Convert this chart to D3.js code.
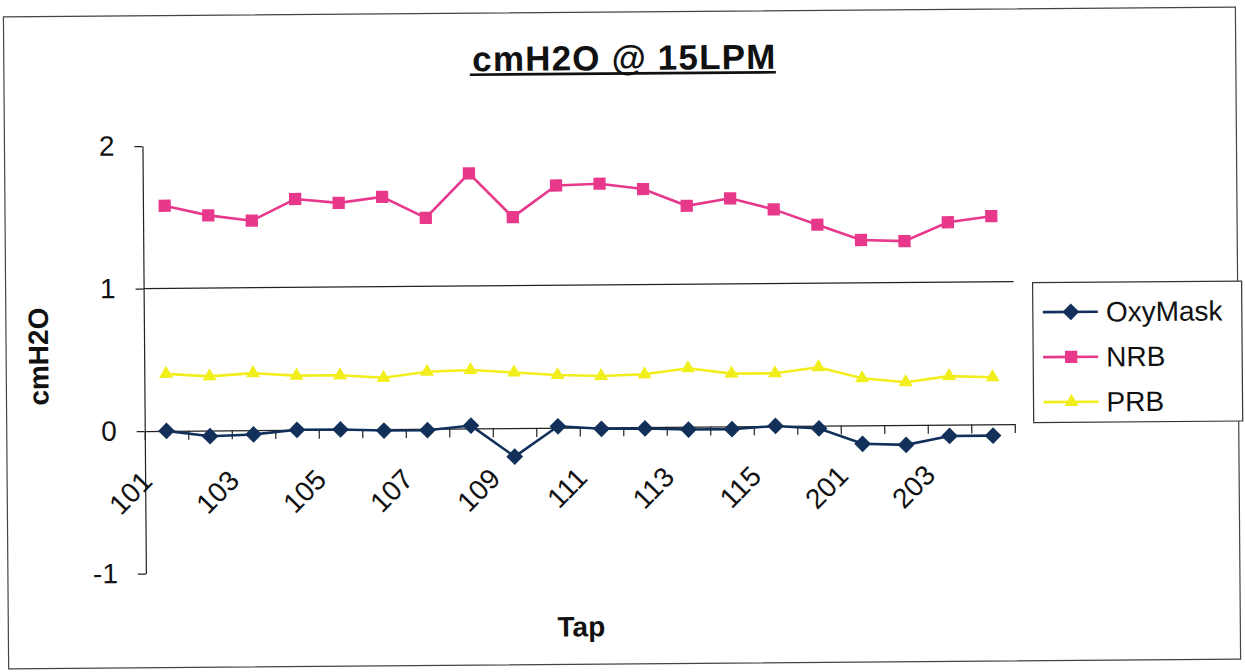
<!DOCTYPE html>
<html>
<head>
<meta charset="utf-8">
<script src="https://cdn.jsdelivr.net/npm/d3@7"></script>
<style>
  html, body { margin: 0; padding: 0; background: #fff; }
  svg { display: block; }
  text { font-family: "Liberation Sans", Arial, sans-serif; fill: #111; }
</style>
</head>
<body>
<svg id="chart" width="1245" height="672"></svg>
<script>
// Pressure readings (cmH2O) at 15 LPM per tap
const categories = ["101","102","103","104","105","106","107","108","109","110",
                    "111","112","113","114","115","116","201","202","203","204"];
const tickLabels = ["101","103","105","107","109","111","113","115","201","203"];
const oxyMask = [0.00,-0.04,-0.03,0.00,0.00,-0.01,-0.01,0.02,-0.20,0.01,
                 -0.01,-0.01,-0.02,-0.02,0.00,-0.02,-0.13,-0.14,-0.08,-0.08];
const nrb     = [1.58,1.51,1.47,1.62,1.59,1.63,1.48,1.79,1.48,1.70,
                 1.71,1.67,1.55,1.60,1.52,1.41,1.30,1.29,1.42,1.46];
const prb     = [0.40,0.38,0.40,0.38,0.38,0.36,0.40,0.41,0.39,0.37,
                 0.36,0.37,0.41,0.37,0.37,0.41,0.33,0.30,0.34,0.33];
const yTicks  = [-1, 0, 1, 2];
const seriesNames = ["OxyMask", "NRB", "PRB"];

const svg = d3.select("#chart");
const root = svg.append("g").attr("transform", "rotate(-0.46,622,336)");

// outer chart frame
root.append("rect")
  .attr("x", 6).attr("y", 12).attr("width", 1232).attr("height", 652)
  .attr("fill", "none").attr("stroke", "#444").attr("stroke-width", 1.2);

const x = d3.scaleBand().domain(categories).range([144, 1014]);
const xEdge = d3.scaleLinear().domain([0, categories.length]).range([144, 1014]);
const y = d3.scaleLinear().domain([-1, 2]).range([569.7, 142.2]);
const cx = c => x(c) + x.bandwidth() / 2;

// gridline at 1
root.append("g").selectAll("line")
  .data(yTicks.filter(v => v !== yTicks[0] && v !== yTicks[yTicks.length - 1] && v !== 0))
  .join("line")
  .attr("x1", 144).attr("x2", 1014)
  .attr("y1", d => y(d)).attr("y2", d => y(d))
  .attr("stroke", "#222").attr("stroke-width", 1.2);

// value axis
const yAxis = root.append("g")
  .attr("transform", "translate(144,0)")
  .call(d3.axisLeft(y).tickValues(yTicks).tickFormat(d => String(d))
        .tickSize(8).tickSizeOuter(0).tickPadding(20));
yAxis.selectAll("path, line").attr("stroke", "#222").attr("stroke-width", 1.2);
yAxis.selectAll("text").attr("font-size", 28).attr("fill", "#111")
  .attr("font-family", "'Liberation Sans', Arial, sans-serif");

// category axis at zero, ticks between categories
const xAxis = root.append("g")
  .attr("transform", `translate(0,${y(0)})`)
  .call(d3.axisBottom(xEdge).tickValues(d3.range(categories.length + 1))
        .tickFormat("").tickSize(9).tickSizeOuter(0));
xAxis.selectAll("path, line").attr("stroke", "#222").attr("stroke-width", 1.2);

root.append("g").selectAll("text")
  .data(tickLabels)
  .join("text")
  .attr("transform", d => `translate(${cx(d) - 20},${y(0) + 45}) rotate(-45)`)
  .attr("text-anchor", "end")
  .attr("dy", "0.35em")
  .attr("font-size", 28)
  .text(d => d);

// series
const colors = { OxyMask: "#12305a", NRB: "#e8388c", PRB: "#f2ee1c" };
const values = { OxyMask: oxyMask, NRB: nrb, PRB: prb };
const symbols = {
  OxyMask: d3.symbol().type(d3.symbolSquare).size(140)(),
  NRB: d3.symbol().type(d3.symbolSquare).size(150)(),
  PRB: d3.symbol().type(d3.symbolTriangle).size(85)()
};
const symRotate = { OxyMask: 45, NRB: 0, PRB: 0 };

const line = d3.line().x((d, i) => cx(categories[i])).y(d => y(d));

// draw PRB and NRB first, OxyMask on top
["PRB", "NRB", "OxyMask"].forEach(name => {
  const g = root.append("g");
  g.append("path")
    .datum(values[name])
    .attr("d", line)
    .attr("fill", "none")
    .attr("stroke", colors[name])
    .attr("stroke-width", 2.6);
  g.selectAll("path.m")
    .data(values[name])
    .join("path")
    .attr("class", "m")
    .attr("d", symbols[name])
    .attr("transform", (d, i) => `translate(${cx(categories[i])},${y(d)}) rotate(${symRotate[name]})`)
    .attr("fill", colors[name]);
});

// legend
const legend = root.append("g");
legend.append("rect")
  .attr("x", 1033).attr("y", 286).attr("width", 209).attr("height", 140)
  .attr("fill", "#fff").attr("stroke", "#333").attr("stroke-width", 1.2);
seriesNames.forEach((name, i) => {
  const ry = 315.5 + i * 45;
  legend.append("line")
    .attr("x1", 1043).attr("x2", 1098).attr("y1", ry).attr("y2", ry)
    .attr("stroke", colors[name]).attr("stroke-width", 2.6);
  legend.append("path")
    .attr("d", symbols[name])
    .attr("transform", `translate(1071,${ry}) rotate(${symRotate[name]})`)
    .attr("fill", colors[name]);
  legend.append("text")
    .attr("x", 1106).attr("y", ry).attr("dy", "0.35em")
    .attr("font-size", 28)
    .text(name);
});

// titles
root.append("text")
  .attr("x", 626).attr("y", 70)
  .attr("text-anchor", "middle")
  .attr("font-size", 35).attr("font-weight", "bold")
  .attr("textLength", 303).attr("lengthAdjust", "spacing")
  .text("cmH2O @ 15LPM");
root.append("line")
  .attr("x1", 472).attr("x2", 778).attr("y1", 73.5).attr("y2", 73.5)
  .attr("stroke", "#111").attr("stroke-width", 2.6);

root.append("text")
  .attr("transform", "translate(48,352) rotate(-90)")
  .attr("text-anchor", "middle")
  .attr("font-size", 28).attr("font-weight", "bold")
  .text("cmH2O");

root.append("text")
  .attr("x", 579).attr("y", 636)
  .attr("text-anchor", "middle")
  .attr("font-size", 28).attr("font-weight", "bold")
  .text("Tap");
</script>
</body>
</html>
